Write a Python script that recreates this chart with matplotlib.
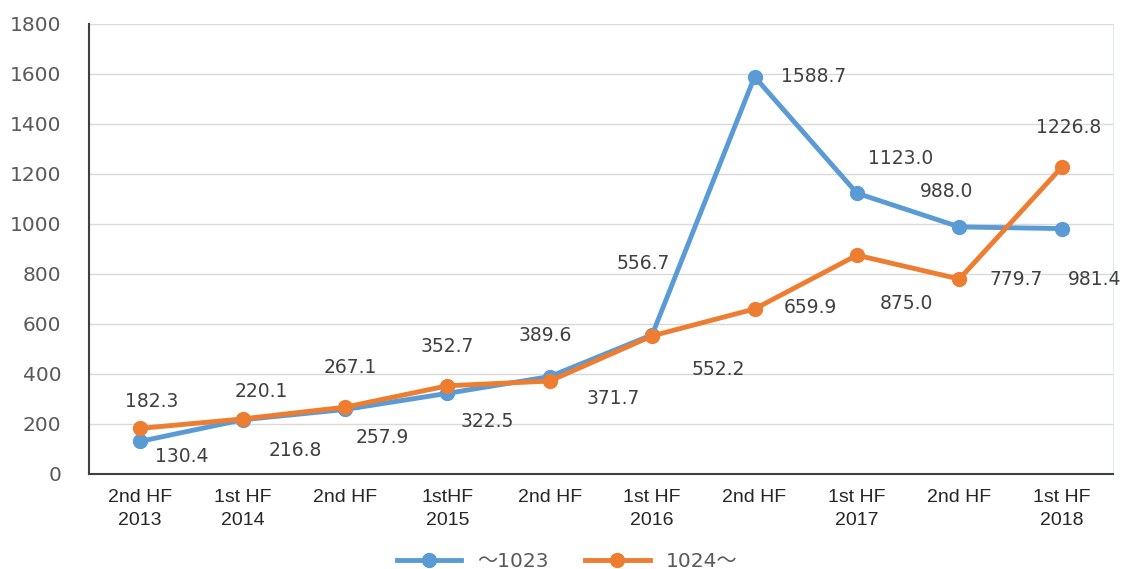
import matplotlib.pyplot as plt
from matplotlib.lines import Line2D

categorias = ["2nd HF\n2013", "1st HF\n2014", "2nd HF\n2014", "1stHF\n2015", "2nd HF\n2015",
              "1st HF\n2016", "2nd HF\n2016", "1st HF\n2017", "2nd HF\n2017", "1st HF\n2018"]
# only the first half-year of each year shows its year in the reference
rotulos_x = ["2nd HF\n2013", "1st HF\n2014", "2nd HF\n", "1stHF\n2015", "2nd HF\n",
             "1st HF\n2016", "2nd HF\n", "1st HF\n2017", "2nd HF\n", "1st HF\n2018"]
serie_a = [130.4, 216.8, 257.9, 322.5, 389.6, 556.7, 1588.7, 1123.0, 988.0, 981.4]
serie_b = [182.3, 220.1, 267.1, 352.7, 371.7, 552.2, 659.9, 875.0, 779.7, 1226.8]
nome_a = "\u301c1023"
nome_b = "1024\u301c"

# label offsets (pixels) from each point
desloc_a = [(42, -15), (53, -31), (37, -28), (40, -28), (-5, 41),
            (-9, 71), (59, 0), (44, 35), (-13, 35), (33, -51)]
desloc_b = [(11, 27), (19, 27), (5, 40), (0, 39), (63, -17),
            (66, -34), (56, 1), (50, -48), (57, 0), (7, 40)]

azul = "#5B9BD5"
laranja = "#ED7D31"

fig = plt.figure(figsize=(11.23, 5.69), dpi=100)
ax = fig.add_axes([0.0793, 0.167, 0.9117, 0.791])

x = list(range(len(categorias)))
ax.plot(x, serie_a, color=azul, lw=3.5, marker="o", ms=10, zorder=3)
ax.plot(x, serie_b, color=laranja, lw=3.5, marker="o", ms=10, zorder=4)

for xi, v, d in zip(x, serie_a, desloc_a):
    ax.annotate(f"{v:.1f}", (xi, v), xytext=d, textcoords="offset pixels",
                ha="center", va="center", fontsize=13.5, color="#404040")
for xi, v, d in zip(x, serie_b, desloc_b):
    ax.annotate(f"{v:.1f}", (xi, v), xytext=d, textcoords="offset pixels",
                ha="center", va="center", fontsize=13.5, color="#404040")

ax.set_xlim(-0.5, len(categorias) - 0.5)
ax.set_ylim(0, 1800)
ax.set_yticks(range(0, 1801, 200))
ax.set_xticks(x)
ax.set_xticklabels(rotulos_x, fontsize=14, family="Liberation Sans", color="#262626",
                   linespacing=1.45)
ax.tick_params(axis="y", length=0, pad=20, labelsize=14.5, labelcolor="#595959")
ax.tick_params(axis="x", length=0, pad=11)

ax.grid(axis="y", color="#D9D9D9", lw=1)
ax.set_axisbelow(True)
ax.spines["top"].set_visible(False)
ax.spines["right"].set_color("#DDEBF7")
ax.spines["left"].set_color("#404040")
ax.spines["left"].set_linewidth(1.5)
ax.spines["bottom"].set_color("#404040")
ax.spines["bottom"].set_linewidth(1.5)

h1 = Line2D([], [], color=azul, lw=3.5, marker="o", ms=10)
h2 = Line2D([], [], color=laranja, lw=3.5, marker="o", ms=10)
leg = fig.legend([h1, h2], [nome_a, nome_b], loc="center", bbox_to_anchor=(0.505, 0.013),
                 ncol=2, frameon=False, handlelength=3.2, columnspacing=1.8,
                 prop={"family": ["DejaVu Sans", "Noto Sans CJK JP"], "size": 14.5})
for t in leg.get_texts():
    t.set_color("#595959")

plt.savefig("out.png", dpi=100)
